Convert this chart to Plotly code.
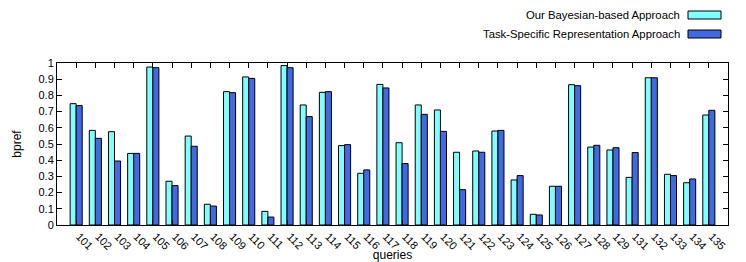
import plotly.graph_objects as go

queries = [str(q) for q in list(range(101, 130)) + list(range(131, 136))]
bayesian = [0.749, 0.584, 0.576, 0.442, 0.975, 0.270, 0.549, 0.128, 0.823, 0.914,
            0.084, 0.984, 0.741, 0.819, 0.490, 0.319, 0.868, 0.508, 0.741, 0.710,
            0.449, 0.457, 0.580, 0.278, 0.066, 0.239, 0.866, 0.481, 0.463, 0.294,
            0.909, 0.313, 0.261, 0.679]
task_specific = [0.737, 0.535, 0.395, 0.442, 0.971, 0.243, 0.486, 0.117, 0.817, 0.905,
                 0.049, 0.971, 0.669, 0.823, 0.496, 0.340, 0.846, 0.379, 0.683, 0.578,
                 0.218, 0.449, 0.584, 0.305, 0.062, 0.239, 0.860, 0.492, 0.477, 0.447,
                 0.909, 0.305, 0.284, 0.708]
series_names = ["Our Bayesian-based Approach", "Task-Specific Representation Approach"]
colors = ["#80FFFF", "#4169E1"]

FONT = "Liberation Sans, Arial, sans-serif"
W, H = 746, 262
ML, MR, MT, MB = 57, 18, 63, 37
PW, PH = W - ML - MR, H - MT - MB

fig = go.Figure()
for name, vals, c in zip(series_names, [bayesian, task_specific], colors):
    fig.add_trace(go.Bar(
        x=queries, y=vals, name=name,
        marker=dict(color=c, line=dict(color="black", width=1)),
        showlegend=False, hoverinfo="x+y",
    ))

fig.update_layout(
    width=W, height=H,
    margin=dict(l=ML, r=MR, t=MT, b=MB, autoexpand=False),
    paper_bgcolor="white", plot_bgcolor="white",
    barmode="group", bargap=0.37, bargroupgap=0,
    font=dict(family=FONT, size=11, color="black"),
    xaxis=dict(
        type="category", range=[-1, len(queries)], automargin=False,
        showline=True, linecolor="black", linewidth=1, mirror="ticks",
        ticks="inside", ticklen=5, tickcolor="black",
        tickangle=45, showgrid=False, ticklabelshift=3,
        title=dict(text="queries", font=dict(size=12), standoff=6),
    ),
    yaxis=dict(
        range=[0, 1], dtick=0.1, automargin=False,
        showline=True, linecolor="black", linewidth=1, mirror="ticks",
        ticks="inside", ticklen=5, tickcolor="black",
        showgrid=False, zeroline=False,
        title=dict(text="bpref", font=dict(size=12), standoff=14),
    ),
)

# Legend (gnuplot style: text right-aligned, swatch on the right)
legend_y = [15, 34]
for i, (name, c) in enumerate(zip(series_names, colors)):
    fig.add_annotation(
        xref="paper", yref="paper",
        x=(682 - ML) / PW, y=(H - legend_y[i] - MB) / PH,
        text=name, showarrow=False, xanchor="right", yanchor="middle",
        font=dict(size=11.3, family=FONT),
    )
    fig.add_shape(
        type="rect", xref="paper", yref="paper",
        x0=(688 - ML) / PW, x1=(721 - ML) / PW,
        y0=(H - legend_y[i] - 4 - MB) / PH, y1=(H - legend_y[i] + 4 - MB) / PH,
        fillcolor=c, line=dict(color="black", width=1),
    )

fig.write_html("out.html", config={"displayModeBar": False},
               post_script="document.body.style.margin='0';")
